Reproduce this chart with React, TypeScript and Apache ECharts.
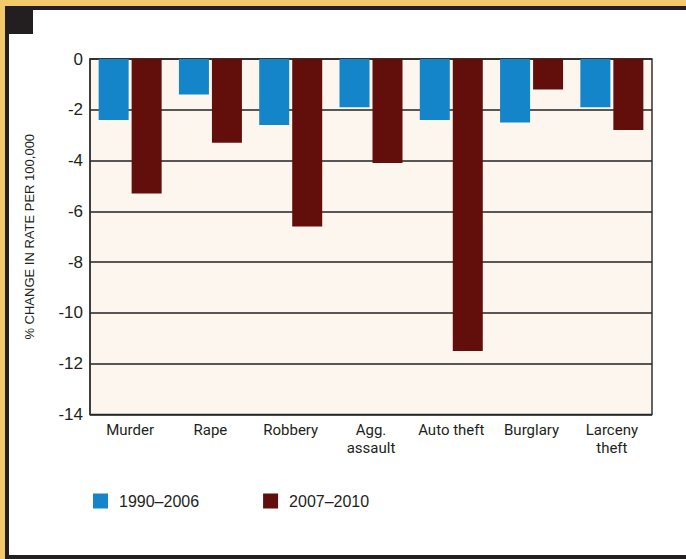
import React, { useEffect, useRef } from "react";
import * as echarts from "echarts";

const categories = ["Murder", "Rape", "Robbery", "Agg.\nassault", "Auto theft", "Burglary", "Larceny\ntheft"];
const seriesNames = ["1990–2006", "2007–2010"];
const values1990 = [-2.4, -1.4, -2.6, -1.9, -2.4, -2.5, -1.9];
const values2007 = [-5.3, -3.3, -6.6, -4.1, -11.5, -1.2, -2.8];
const yTitle = "% CHANGE IN RATE PER 100,000";

const BLUE = "#1385c8";
const RED = "#620f0b";
const INK = "#231f20";

export default function App() {
  const ref = useRef<HTMLDivElement>(null);
  useEffect(() => {
    if (!ref.current) return;
    const chart = echarts.init(ref.current, null, { renderer: "svg" });
    chart.setOption({
      animation: false,
      backgroundColor: "#f2c96b",
      graphic: [
        { type: "rect", shape: { x: 5, y: 6, width: 700, height: 560 }, style: { fill: INK }, z: -10 },
        { type: "rect", shape: { x: 9, y: 10, width: 700, height: 545 }, style: { fill: "#ffffff" }, z: -9 },
        { type: "rect", shape: { x: 5, y: 6, width: 28, height: 28 }, style: { fill: INK }, z: -8 },
      ],
      grid: {
        left: 90,
        top: 59,
        right: 34,
        bottom: 144.5,
        show: true,
        backgroundColor: "#fcf6ee",
        borderColor: "#333",
        borderWidth: 1.5,
      },
      legend: {
        left: 88,
        top: 488,
        itemWidth: 15,
        itemHeight: 15,
        itemGap: 64,
        icon: "rect",
        data: seriesNames,
        textStyle: {
          fontFamily: "'Liberation Sans', Arial, sans-serif",
          fontSize: 16,
          color: INK,
          padding: [0, 0, 0, 6],
        },
      },
      xAxis: {
        type: "category",
        data: categories,
        axisLine: { show: false },
        axisTick: { show: false },
        axisLabel: {
          interval: 0,
          color: INK,
          fontFamily: "Roboto, 'Liberation Sans', sans-serif",
          fontSize: 15,
          lineHeight: 18,
          margin: 6,
        },
      },
      yAxis: {
        type: "value",
        min: -14,
        max: 0,
        interval: 2,
        name: yTitle,
        nameLocation: "middle",
        nameGap: 54,
        nameTextStyle: {
          fontFamily: "'Liberation Sans', Arial, sans-serif",
          fontSize: 13,
          color: INK,
        },
        axisLine: { show: true, lineStyle: { color: "#333", width: 1.5 } },
        axisTick: { show: false },
        axisLabel: {
          color: INK,
          fontFamily: "'Liberation Sans', Arial, sans-serif",
          fontSize: 17,
          margin: 7,
        },
        splitLine: { show: true, lineStyle: { color: "#222", width: 1.5 } },
      },
      series: [
        {
          name: seriesNames[0],
          type: "bar",
          data: values1990,
          barWidth: 30,
          barGap: "10%",
          itemStyle: { color: BLUE },
        },
        {
          name: seriesNames[1],
          type: "bar",
          data: values2007,
          barWidth: 30,
          itemStyle: { color: RED },
        },
      ],
    });
    return () => chart.dispose();
  }, []);
  return (
    <div style={{ position: "fixed", left: 0, top: 0, width: 686, height: 559 }}>
      <div ref={ref} style={{ width: 686, height: 559 }} />
    </div>
  );
}
